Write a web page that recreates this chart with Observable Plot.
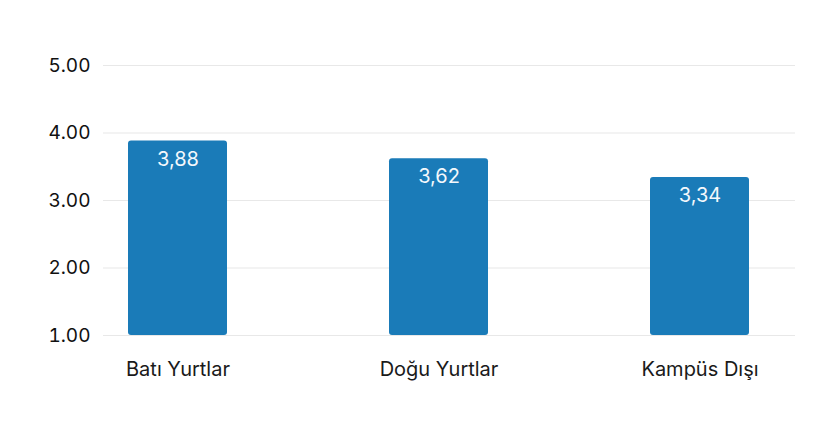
<!DOCTYPE html>
<html>
<head>
<meta charset="utf-8">
<script src="https://cdn.jsdelivr.net/npm/d3@7"></script>
<script src="https://cdn.jsdelivr.net/npm/@observablehq/plot@0.6"></script>
<style>
  html, body { margin: 0; padding: 0; background: #fff; }
  #chart svg { display: block; }
</style>
</head>
<body>
<div id="chart"></div>
<script>
const categories = ["Batı Yurtlar", "Doğu Yurtlar", "Kampüs Dışı"];
const values = [3.88, 3.62, 3.34];
const yTicks = [1, 2, 3, 4, 5];

const data = categories.map((c, i) => ({category: c, value: values[i]}));
const fmtComma = d3.format(".2f");

const chart = Plot.plot({
  width: 825,
  height: 444,
  marginTop: 65,
  marginBottom: 109,
  marginLeft: 103,
  marginRight: 30,
  style: {fontFamily: "Inter, 'Noto Sans', sans-serif", background: "#fff"},
  x: {domain: categories, range: [47, 830], paddingInner: 0.62, paddingOuter: 0.31, label: null},
  y: {domain: [1, 5], label: null},
  marks: [
    Plot.ruleY(yTicks, {stroke: "#e8e8e8", strokeWidth: 1.2}),
    Plot.barY(data, {x: "category", y1: 1, y2: "value", fill: "#1a7bb8", rx: 3}),
    Plot.text(data, {
      x: "category", y: "value",
      text: d => fmtComma(d.value).replace(".", ","),
      fill: "#f4f8fc", fontSize: 20, dy: 18
    }),
    Plot.axisY(yTicks, {tickSize: 0, tickPadding: 13, tickFormat: d3.format(".2f"), fontSize: 19, fill: "#111"}),
    Plot.axisX({tickSize: 0, tickPadding: 26, fontSize: 20, fill: "#1a1a1a"})
  ]
});
document.getElementById("chart").appendChild(chart);
</script>
</body>
</html>
